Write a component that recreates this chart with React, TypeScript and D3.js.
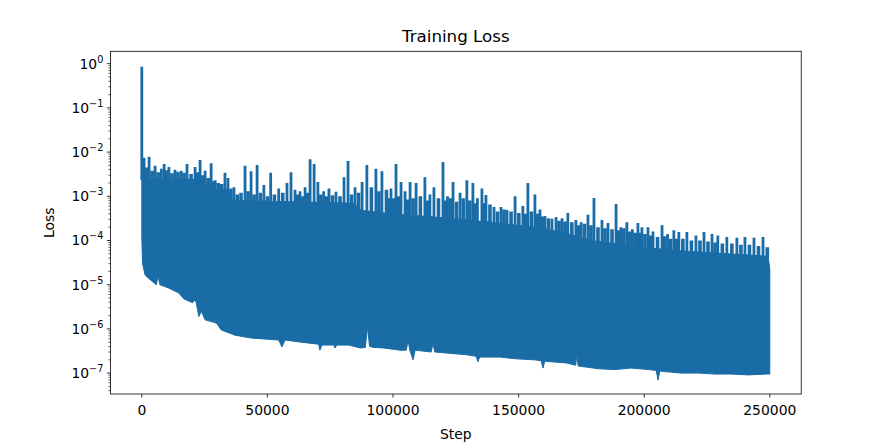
import React from "react";
import * as d3 from "d3";

// ---- data ----
// lower edge of the solid upper region (step, loss): the level the gaps between spikes reach
const upperSteps = [0, 1800, 24700, 26200, 34600, 36100, 59500, 84400, 87400, 99300, 119200, 139100, 159000, 169000, 178900, 198800, 218700, 238600, 249300, 250000];
const upperValues = [2.7e-3, 2.5e-3, 2.4e-3, 1.5e-3, 1.4e-3, 8.0e-4, 7.5e-4, 7.0e-4, 4.8e-4, 4.0e-4, 3.3e-4, 2.6e-4, 1.9e-4, 1.45e-4, 1.0e-4, 7.0e-5, 5.6e-5, 4.8e-5, 4.4e-5, 2.3e-5];

// lower envelope of the band (step, loss)
const lowerSteps = [0, 300, 1300, 3300, 5800, 6500, 7200, 10700, 14700, 16700, 20200, 20900, 21700, 22700, 23700, 25200, 29700, 31600, 37100, 43600, 54500, 55800, 57000, 63500, 70400, 70900, 71700, 76400, 76900, 77600, 82400, 86900, 89000, 89800, 90700, 92300, 96300, 102800, 105300, 106000, 106700, 108000, 108800, 115200, 115900, 116600, 122700, 129200, 133100, 133800, 134500, 142600, 149100, 156000, 159000, 159700, 160400, 169000, 172700, 173200, 173700, 181900, 188400, 194800, 201800, 204800, 205500, 206200, 208300, 214700, 221700, 228200, 234600, 241600, 248600, 250000];
const lowerValues = [1.2e-4, 3.0e-5, 1.66e-5, 1.3e-5, 1.0e-5, 1.6e-5, 1.0e-5, 8.4e-6, 6.5e-6, 4.8e-6, 3.9e-6, 4.5e-6, 3.9e-6, 1.9e-6, 2.5e-6, 1.6e-6, 1.36e-6, 9.5e-7, 7.2e-7, 6.2e-7, 5.6e-7, 3.9e-7, 5.6e-7, 5.0e-7, 4.5e-7, 3.3e-7, 4.3e-7, 4.3e-7, 3.7e-7, 4.3e-7, 4.3e-7, 3.7e-7, 3.8e-7, 1.1e-6, 4.0e-7, 3.8e-7, 3.7e-7, 3.3e-7, 3.3e-7, 5.6e-7, 3.3e-7, 2.0e-7, 3.3e-7, 3.0e-7, 4.8e-7, 3.0e-7, 2.8e-7, 2.6e-7, 2.4e-7, 1.8e-7, 2.3e-7, 2.3e-7, 2.1e-7, 2.0e-7, 1.9e-7, 1.3e-7, 1.85e-7, 1.7e-7, 1.5e-7, 2.6e-7, 1.45e-7, 1.25e-7, 1.2e-7, 1.3e-7, 1.2e-7, 1.15e-7, 6.9e-8, 1.12e-7, 1.08e-7, 1.0e-7, 1.0e-7, 9.5e-8, 9.5e-8, 9.1e-8, 9.5e-8, 9.5e-8];

// tall spikes above the band (step, peak loss)
const spikeSteps = [0, 900, 2900, 5300, 7800, 8900, 10800, 13200, 15700, 18000, 21200, 23200, 25200, 27600, 29200, 33100, 34300, 36700, 41100, 43500, 45900, 48600, 51300, 54500, 57800, 59400, 61000, 63000, 65000, 67000, 68600, 70100, 72400, 74500, 77300, 80500, 82100, 84900, 87700, 89600, 93200, 95600, 99200, 101200, 103200, 104800, 106800, 109200, 112700, 114700, 116300, 119900, 121700, 123900, 126700, 129400, 131800, 133600, 135400, 137000, 140200, 143000, 145400, 148600, 151700, 153700, 156500, 158500, 160500, 163300, 164900, 167300, 169600, 172800, 174900, 177600, 180000, 183200, 185600, 188800, 190700, 193100, 195300, 197500, 199100, 201500, 203500, 207100, 209300, 211800, 213800, 217000, 220600, 223800, 227000, 229300, 232900, 236900, 240100, 243700, 247300];
const spikeValues = [0.85, 7.4e-3, 7.8e-3, 4.9e-3, 4.2e-3, 5.4e-3, 4.6e-3, 4.0e-3, 3.8e-3, 5.4e-3, 4.6e-3, 6.6e-3, 3.8e-3, 5.6e-3, 2.3e-3, 3.4e-3, 2.6e-3, 1.6e-3, 4.9e-3, 3.7e-3, 5.1e-3, 1.8e-3, 3.4e-3, 1.5e-3, 2.0e-3, 3.5e-3, 1.4e-3, 1.3e-3, 1.6e-3, 6.9e-3, 5.4e-3, 2.1e-3, 1.3e-3, 1.5e-3, 1.26e-3, 2.7e-3, 6.3e-3, 1.6e-3, 2.1e-3, 5.1e-3, 4.2e-3, 3.7e-3, 1.5e-3, 5.4e-3, 2.1e-3, 1.3e-3, 2.1e-3, 2.0e-3, 2.7e-3, 1.1e-3, 1.6e-3, 6.0e-3, 1.0e-3, 2.1e-3, 1.2e-3, 2.3e-3, 2.0e-3, 9.0e-4, 1.5e-3, 1.07e-3, 5.7e-4, 5.7e-4, 4.9e-4, 1.0e-3, 6.0e-4, 2.0e-3, 1.1e-3, 5.0e-4, 3.6e-4, 3.1e-4, 3.4e-4, 3.2e-4, 4.2e-4, 2.9e-4, 2.6e-4, 3.8e-4, 9.2e-4, 2.9e-4, 2.5e-4, 6.7e-4, 2.0e-4, 2.6e-4, 1.8e-4, 2.5e-4, 2.0e-4, 2.0e-4, 1.6e-4, 2.2e-4, 1.4e-4, 1.7e-4, 1.55e-4, 1.55e-4, 1.3e-4, 1.55e-4, 1.4e-4, 1.3e-4, 1.2e-4, 1.15e-4, 1.2e-4, 1.15e-4, 1.2e-4];

// shorter peaks between the tall spikes (step, peak loss)
const minorSteps = [1900, 4100, 6500, 9900, 12000, 14400, 16800, 19600, 22200, 24300, 26400, 28400, 30400, 31800, 35500, 38000, 39500, 42300, 44700, 47200, 50000, 52800, 56100, 62000, 64000, 66000, 71200, 73500, 75900, 78900, 83500, 86300, 91400, 94400, 97400, 98300, 100200, 102200, 105800, 108000, 110900, 113700, 118100, 120800, 122800, 125300, 128000, 130600, 132700, 136200, 138600, 141600, 144200, 147000, 150100, 152700, 155100, 157500, 159500, 161900, 166100, 168500, 171200, 173800, 176200, 178800, 181600, 184400, 187200, 189800, 191900, 194200, 196400, 198300, 200300, 202500, 205300, 208200, 210500, 212800, 215400, 218800, 222200, 225400, 228200, 231100, 234900, 238500, 241900, 245500, 249000];
const minorValues = [4.5e-3, 3.8e-3, 3.5e-3, 3.9e-3, 3.3e-3, 3.6e-3, 3.4e-3, 3.2e-3, 3.5e-3, 3.0e-3, 2.6e-3, 2.2e-3, 2.0e-3, 1.9e-3, 1.5e-3, 1.1e-3, 1.2e-3, 1.3e-3, 1.1e-3, 1.2e-3, 1.0e-3, 1.1e-3, 1.2e-3, 1.1e-3, 1.0e-3, 1.2e-3, 1.1e-3, 1.0e-3, 1.05e-3, 1.0e-3, 1.1e-3, 1.2e-3, 1.6e-3, 1.3e-3, 1.4e-3, 9.0e-4, 9.0e-4, 1.0e-3, 8.5e-4, 9.0e-4, 1.0e-3, 8.0e-4, 9.0e-4, 8.0e-4, 9.0e-4, 7.5e-4, 9.0e-4, 8.0e-4, 7.0e-4, 7.0e-4, 6.5e-4, 4.5e-4, 5.0e-4, 4.5e-4, 4.2e-4, 4.0e-4, 4.5e-4, 4.0e-4, 3.5e-4, 3.2e-4, 2.8e-4, 2.7e-4, 2.6e-4, 2.2e-4, 2.4e-4, 2.2e-4, 2.0e-4, 1.9e-4, 1.8e-4, 1.7e-4, 1.9e-4, 1.6e-4, 1.5e-4, 1.5e-4, 1.4e-4, 1.3e-4, 1.2e-4, 1.25e-4, 1.1e-4, 1.1e-4, 1.1e-4, 1.0e-4, 1.0e-4, 9.5e-5, 9.0e-5, 8.5e-5, 8.5e-5, 8.0e-5, 8.0e-5, 7.5e-5, 7.0e-5];

const xTicks = [0, 50000, 100000, 150000, 200000, 250000];
const yTickExps = [0, -1, -2, -3, -4, -5, -6, -7];

const TITLE = "Training Loss";
const X_LABEL = "Step";
const Y_LABEL = "Loss";

const W = 887;
const H = 442;
const L = 110.4, R = 801.2, T = 51.3, B = 394;
const COLOR = "#1a6ca7";
const FONT = "DejaVu Sans, sans-serif";

export default function App() {
  const x = d3.scaleLinear().domain([-12500, 262500]).range([L, R]);
  const y = d3.scaleLog().domain([Math.pow(10, -7.473), Math.pow(10, 0.28)]).range([B, T]);

  const upperPts = upperSteps.map((s, i) => [s, upperValues[i]] as [number, number]);
  const lowerPts = lowerSteps.map((s, i) => [s, lowerValues[i]] as [number, number]);
  const band = d3
    .line<[number, number]>()
    .x((d) => x(d[0]))
    .y((d) => y(d[1]));
  const bandPath = band([...upperPts, ...lowerPts.slice().reverse()]) + "Z";

  const floorLog = d3
    .scaleLinear()
    .domain(upperSteps)
    .range(upperValues.map((v) => Math.log10(v)))
    .clamp(true);

  const minorTicks: number[] = [];
  for (let e = -8; e <= 0; e++) {
    for (let k = 2; k <= 9; k++) {
      const v = k * Math.pow(10, e);
      const yy = y(v);
      if (yy >= T && yy <= B) minorTicks.push(v);
    }
  }

  const spikeLine = (s: number, v: number, w: number, key: string) => {
    const bottom = y(Math.pow(10, floorLog(s))) + 3;
    return (
      <line key={key} x1={x(s)} x2={x(s)} y1={bottom} y2={y(v)} stroke={COLOR} strokeWidth={w} />
    );
  };

  return (
    <svg
      width={W}
      height={H}
      style={{ position: "absolute", left: 0, top: 0, background: "#fff" }}
      fontFamily={FONT}
    >
      <rect x={0} y={0} width={W} height={H} fill="#fff" />
      <defs>
        <clipPath id="plotclip">
          <rect x={L} y={T} width={R - L} height={B - T} />
        </clipPath>
      </defs>
      <g clipPath="url(#plotclip)">
        <path d={bandPath} fill={COLOR} stroke={COLOR} strokeWidth={1} strokeLinejoin="round" />
        {minorSteps.map((s, i) => spikeLine(s, minorValues[i], 3.6, "m" + i))}
        {spikeSteps.map((s, i) => spikeLine(s, spikeValues[i], 2.8, "s" + i))}
      </g>

      {/* spines */}
      <rect x={L} y={T} width={R - L} height={B - T} fill="none" stroke="#000" strokeWidth={0.8} />

      {/* x ticks */}
      {xTicks.map((t) => (
        <g key={t}>
          <line x1={x(t)} x2={x(t)} y1={B} y2={B + 3.5} stroke="#000" strokeWidth={0.8} />
          <text x={x(t)} y={B + 21} textAnchor="middle" fontSize={13.9} fill="#000">
            {t}
          </text>
        </g>
      ))}

      {/* y minor ticks */}
      {minorTicks.map((v, i) => (
        <line key={i} x1={L - 2} x2={L} y1={y(v)} y2={y(v)} stroke="#000" strokeWidth={0.6} />
      ))}

      {/* y major ticks */}
      {yTickExps.map((e) => {
        const yy = y(Math.pow(10, e));
        return (
          <g key={e}>
            <line x1={L - 3.5} x2={L} y1={yy} y2={yy} stroke="#000" strokeWidth={0.8} />
            <text x={L - 7} y={yy + 5} textAnchor="end" fontSize={13.9} fill="#000">
              <tspan>10</tspan>
              <tspan dy={-6} fontSize={9.7}>
                {e === 0 ? "0" : "\u2212" + Math.abs(e)}
              </tspan>
            </text>
          </g>
        );
      })}

      {/* labels */}
      <text x={(L + R) / 2} y={42} textAnchor="middle" fontSize={16.7} fill="#000">
        {TITLE}
      </text>
      <text x={(L + R) / 2} y={439} textAnchor="middle" fontSize={13.9} fill="#000">
        {X_LABEL}
      </text>
      <text
        transform={`translate(54, ${(T + B) / 2}) rotate(-90)`}
        textAnchor="middle"
        fontSize={13.9}
        fill="#000"
      >
        {Y_LABEL}
      </text>
    </svg>
  );
}
